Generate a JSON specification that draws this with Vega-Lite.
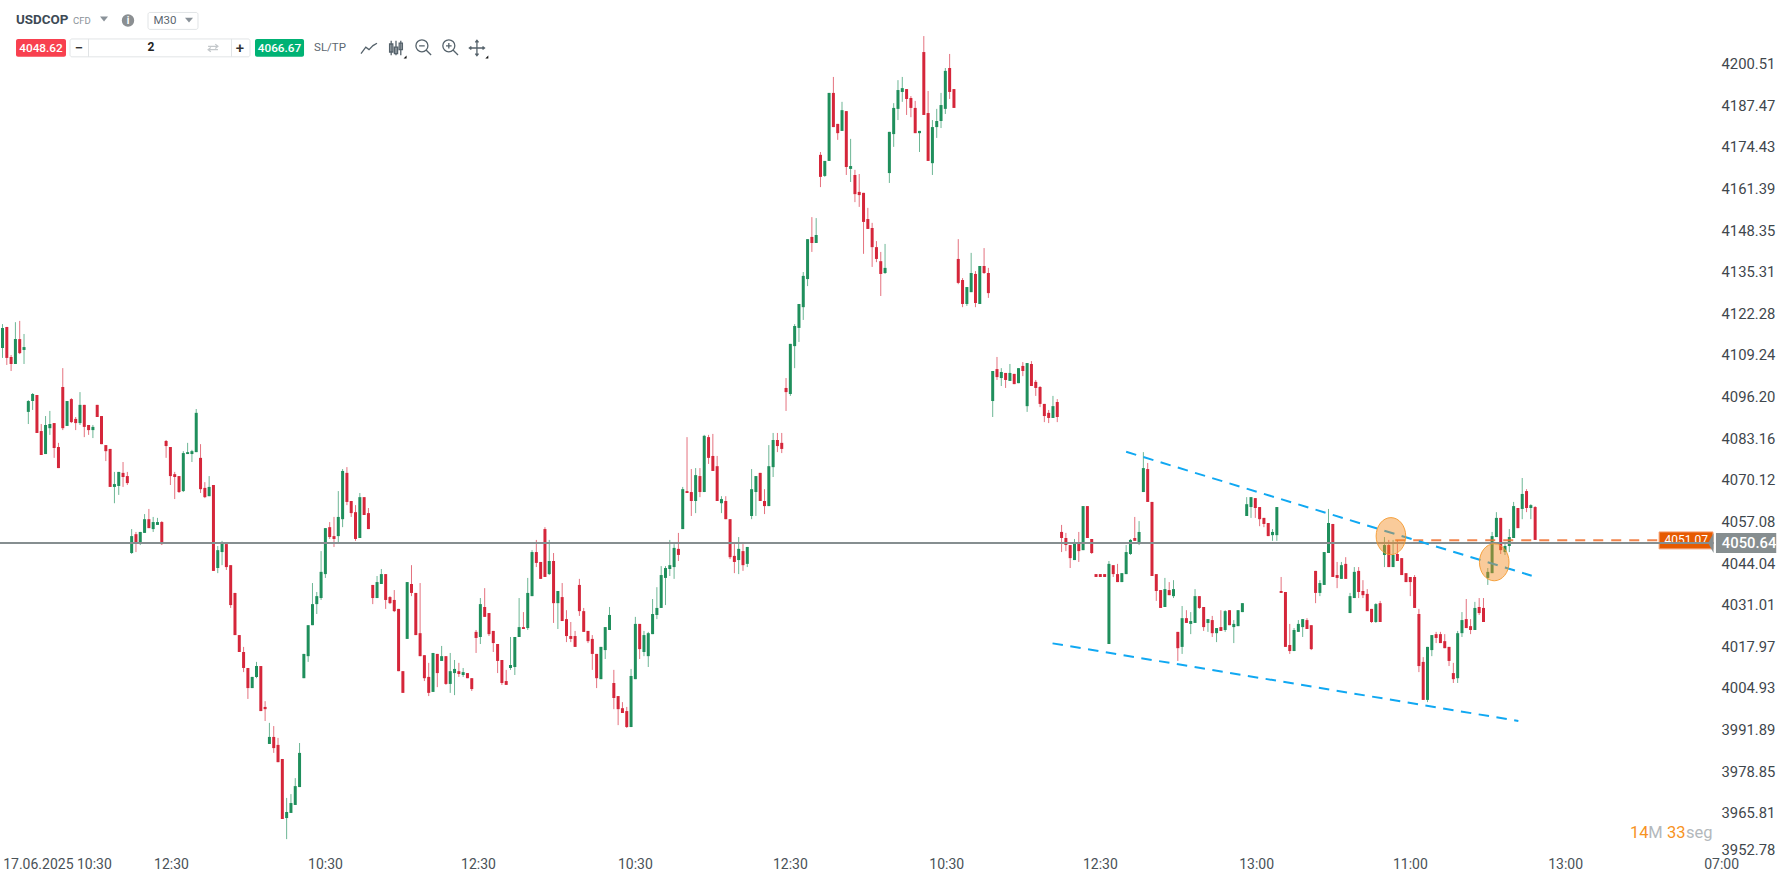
{
"$schema":"https://vega.github.io/schema/vega-lite/v6.json",
"width":1787,"height":872,
"autosize":{"type":"none"},
"padding":0,
"background":"white",
"config":{"view":{"stroke":null},"text":{"font":"Roboto"}},
"datasets":{"candles":[
{"b":0,"o":4111.7,"h":4119.2,"l":4108.6,"c":4118.0},
{"b":1,"o":4118.3,"h":4118.3,"l":4106.4,"c":4108.6},
{"b":2,"o":4108.9,"h":4109.5,"l":4104.5,"c":4106.7},
{"b":3,"o":4106.7,"h":4119.8,"l":4106.7,"c":4114.5},
{"b":4,"o":4114.5,"h":4120.2,"l":4109.8,"c":4110.1},
{"b":5,"o":4111.1,"h":4116.1,"l":4106.7,"c":4112.0},
{"b":6,"o":4091.7,"h":4095.4,"l":4087.9,"c":4095.1},
{"b":7,"o":4095.1,"h":4097.6,"l":4092.3,"c":4097.3},
{"b":8,"o":4097.0,"h":4097.0,"l":4085.1,"c":4085.1},
{"b":9,"o":4085.7,"h":4087.9,"l":4078.2,"c":4078.2},
{"b":10,"o":4078.5,"h":4090.4,"l":4078.5,"c":4087.6},
{"b":11,"o":4086.6,"h":4092.0,"l":4084.5,"c":4087.9},
{"b":12,"o":4088.2,"h":4088.2,"l":4077.3,"c":4080.4},
{"b":13,"o":4080.7,"h":4082.0,"l":4074.1,"c":4074.1},
{"b":14,"o":4099.5,"h":4105.4,"l":4086.0,"c":4086.6},
{"b":15,"o":4087.3,"h":4095.1,"l":4087.3,"c":4095.1},
{"b":16,"o":4095.7,"h":4096.0,"l":4088.2,"c":4088.5},
{"b":17,"o":4089.5,"h":4090.1,"l":4086.0,"c":4088.2},
{"b":18,"o":4088.2,"h":4097.9,"l":4087.6,"c":4093.9},
{"b":19,"o":4093.9,"h":4093.9,"l":4083.8,"c":4087.0},
{"b":20,"o":4087.6,"h":4087.6,"l":4084.5,"c":4086.0},
{"b":21,"o":4086.0,"h":4087.6,"l":4083.5,"c":4087.0},
{"b":22,"o":4093.9,"h":4093.9,"l":4090.1,"c":4090.1},
{"b":23,"o":4090.4,"h":4090.4,"l":4081.6,"c":4081.6},
{"b":24,"o":4081.3,"h":4081.3,"l":4076.3,"c":4079.4},
{"b":25,"o":4080.1,"h":4080.1,"l":4068.2,"c":4068.2},
{"b":26,"o":4068.2,"h":4072.9,"l":4063.1,"c":4069.1},
{"b":27,"o":4068.5,"h":4072.9,"l":4065.7,"c":4072.9},
{"b":28,"o":4072.6,"h":4076.0,"l":4068.2,"c":4071.3},
{"b":29,"o":4071.6,"h":4072.9,"l":4068.8,"c":4069.4},
{"b":30,"o":4047.5,"h":4055.0,"l":4047.2,"c":4052.8},
{"b":31,"o":4053.4,"h":4054.1,"l":4047.8,"c":4050.6},
{"b":32,"o":4050.6,"h":4054.1,"l":4050.0,"c":4054.1},
{"b":33,"o":4053.8,"h":4059.7,"l":4053.8,"c":4058.1},
{"b":34,"o":4058.1,"h":4061.3,"l":4055.3,"c":4055.3},
{"b":35,"o":4055.0,"h":4058.8,"l":4054.1,"c":4057.2},
{"b":36,"o":4056.3,"h":4058.5,"l":4056.3,"c":4057.2},
{"b":37,"o":4057.2,"h":4057.5,"l":4050.0,"c":4050.3},
{"b":38,"o":4082.6,"h":4082.9,"l":4077.3,"c":4081.0},
{"b":39,"o":4080.7,"h":4080.7,"l":4068.8,"c":4071.6},
{"b":40,"o":4072.2,"h":4072.9,"l":4064.4,"c":4071.3},
{"b":41,"o":4071.6,"h":4071.6,"l":4066.3,"c":4066.6},
{"b":42,"o":4066.9,"h":4079.4,"l":4066.6,"c":4078.8},
{"b":43,"o":4078.5,"h":4082.0,"l":4078.5,"c":4079.1},
{"b":44,"o":4078.5,"h":4079.8,"l":4076.0,"c":4079.4},
{"b":45,"o":4079.1,"h":4092.6,"l":4079.1,"c":4091.4},
{"b":46,"o":4077.3,"h":4081.6,"l":4066.3,"c":4067.5},
{"b":47,"o":4067.9,"h":4069.7,"l":4064.7,"c":4065.0},
{"b":48,"o":4065.3,"h":4071.6,"l":4065.3,"c":4068.2},
{"b":49,"o":4068.8,"h":4068.8,"l":4041.9,"c":4041.9},
{"b":50,"o":4042.8,"h":4049.7,"l":4041.2,"c":4048.4},
{"b":51,"o":4047.8,"h":4051.3,"l":4043.7,"c":4050.9},
{"b":52,"o":4050.3,"h":4050.3,"l":4042.2,"c":4043.1},
{"b":53,"o":4043.7,"h":4043.7,"l":4030.3,"c":4031.2},
{"b":54,"o":4035.0,"h":4035.0,"l":4021.8,"c":4021.8},
{"b":55,"o":4021.8,"h":4021.8,"l":4016.5,"c":4016.5},
{"b":56,"o":4016.5,"h":4018.1,"l":4010.2,"c":4011.5},
{"b":57,"o":4011.5,"h":4011.5,"l":4001.8,"c":4005.2},
{"b":58,"o":4005.2,"h":4008.7,"l":4005.2,"c":4008.7},
{"b":59,"o":4008.7,"h":4013.4,"l":4008.3,"c":4012.1},
{"b":60,"o":4012.1,"h":4012.1,"l":3998.0,"c":3998.0},
{"b":61,"o":3999.3,"h":4001.1,"l":3994.9,"c":3998.6},
{"b":62,"o":3987.7,"h":3994.3,"l":3987.7,"c":3989.9},
{"b":63,"o":3989.9,"h":3993.3,"l":3984.9,"c":3986.4},
{"b":64,"o":3987.4,"h":3989.6,"l":3982.0,"c":3982.0},
{"b":65,"o":3983.0,"h":3983.0,"l":3964.2,"c":3964.2},
{"b":66,"o":3964.5,"h":3970.8,"l":3957.9,"c":3966.4},
{"b":67,"o":3966.1,"h":3972.0,"l":3966.1,"c":3969.2},
{"b":68,"o":3968.6,"h":3977.0,"l":3968.6,"c":3974.5},
{"b":69,"o":3974.2,"h":3988.0,"l":3974.2,"c":3984.9},
{"b":70,"o":4008.3,"h":4015.9,"l":4008.3,"c":4015.9},
{"b":71,"o":4015.2,"h":4024.9,"l":4013.4,"c":4024.9},
{"b":72,"o":4024.9,"h":4038.1,"l":4024.9,"c":4031.5},
{"b":73,"o":4031.5,"h":4035.3,"l":4028.4,"c":4034.0},
{"b":74,"o":4033.4,"h":4048.1,"l":4032.8,"c":4041.6},
{"b":75,"o":4040.9,"h":4055.3,"l":4039.7,"c":4055.3},
{"b":76,"o":4055.6,"h":4057.2,"l":4051.9,"c":4052.5},
{"b":77,"o":4052.8,"h":4058.8,"l":4049.4,"c":4051.9},
{"b":78,"o":4052.8,"h":4066.9,"l":4050.9,"c":4058.8},
{"b":79,"o":4058.1,"h":4073.8,"l":4055.6,"c":4073.2},
{"b":80,"o":4072.6,"h":4074.4,"l":4062.5,"c":4063.5},
{"b":81,"o":4063.8,"h":4063.8,"l":4058.8,"c":4060.0},
{"b":82,"o":4060.3,"h":4062.5,"l":4051.3,"c":4051.9},
{"b":83,"o":4052.2,"h":4066.3,"l":4052.2,"c":4065.0},
{"b":84,"o":4065.0,"h":4065.0,"l":4059.4,"c":4059.4},
{"b":85,"o":4060.0,"h":4061.6,"l":4055.0,"c":4055.0},
{"b":86,"o":4037.5,"h":4037.5,"l":4031.5,"c":4033.4},
{"b":87,"o":4033.4,"h":4040.3,"l":4033.4,"c":4038.4},
{"b":88,"o":4037.8,"h":4042.5,"l":4037.8,"c":4040.9},
{"b":89,"o":4040.9,"h":4040.9,"l":4030.0,"c":4032.8},
{"b":90,"o":4033.7,"h":4034.0,"l":4031.5,"c":4031.8},
{"b":91,"o":4032.8,"h":4035.9,"l":4029.0,"c":4029.3},
{"b":92,"o":4030.0,"h":4030.0,"l":4010.5,"c":4010.5},
{"b":93,"o":4010.5,"h":4010.5,"l":4003.7,"c":4003.7},
{"b":94,"o":4020.6,"h":4038.4,"l":4020.6,"c":4038.4},
{"b":95,"o":4037.8,"h":4043.7,"l":4034.0,"c":4035.0},
{"b":96,"o":4035.0,"h":4035.0,"l":4021.8,"c":4021.8},
{"b":97,"o":4022.4,"h":4038.1,"l":4015.2,"c":4015.2},
{"b":98,"o":4015.5,"h":4015.5,"l":4007.4,"c":4008.3},
{"b":99,"o":4008.7,"h":4013.1,"l":4002.7,"c":4003.7},
{"b":100,"o":4004.0,"h":4016.2,"l":4004.0,"c":4016.2},
{"b":101,"o":4015.9,"h":4015.9,"l":4005.5,"c":4009.9},
{"b":102,"o":4013.7,"h":4018.4,"l":4013.7,"c":4015.2},
{"b":103,"o":4015.2,"h":4015.2,"l":4006.2,"c":4006.5},
{"b":104,"o":4006.5,"h":4016.2,"l":4003.7,"c":4010.5},
{"b":105,"o":4009.9,"h":4014.0,"l":4003.0,"c":4011.2},
{"b":106,"o":4010.5,"h":4013.1,"l":4008.7,"c":4009.6},
{"b":107,"o":4009.3,"h":4011.5,"l":4008.7,"c":4010.2},
{"b":108,"o":4009.9,"h":4009.9,"l":4008.3,"c":4008.3},
{"b":109,"o":4008.3,"h":4008.3,"l":4004.3,"c":4004.9},
{"b":110,"o":4022.8,"h":4023.4,"l":4016.2,"c":4020.9},
{"b":111,"o":4021.2,"h":4033.4,"l":4019.0,"c":4031.5},
{"b":112,"o":4030.6,"h":4036.5,"l":4027.5,"c":4027.5},
{"b":113,"o":4028.7,"h":4028.7,"l":4021.5,"c":4022.1},
{"b":114,"o":4023.1,"h":4023.1,"l":4016.5,"c":4019.3},
{"b":115,"o":4019.0,"h":4019.0,"l":4009.9,"c":4013.7},
{"b":116,"o":4014.0,"h":4014.0,"l":4006.2,"c":4006.8},
{"b":117,"o":4007.4,"h":4010.9,"l":4006.2,"c":4006.2},
{"b":118,"o":4011.5,"h":4021.2,"l":4010.9,"c":4012.4},
{"b":119,"o":4011.8,"h":4021.2,"l":4009.3,"c":4021.2},
{"b":120,"o":4021.2,"h":4033.4,"l":4021.2,"c":4024.3},
{"b":121,"o":4024.3,"h":4029.0,"l":4023.7,"c":4023.7},
{"b":122,"o":4024.0,"h":4039.7,"l":4023.4,"c":4035.0},
{"b":123,"o":4034.0,"h":4048.4,"l":4034.0,"c":4047.8},
{"b":124,"o":4047.8,"h":4051.6,"l":4043.1,"c":4044.4},
{"b":125,"o":4044.7,"h":4044.7,"l":4039.4,"c":4039.4},
{"b":126,"o":4055.0,"h":4055.6,"l":4040.0,"c":4040.0},
{"b":127,"o":4040.9,"h":4051.6,"l":4040.6,"c":4045.0},
{"b":128,"o":4045.0,"h":4047.5,"l":4025.6,"c":4031.8},
{"b":129,"o":4031.8,"h":4035.6,"l":4023.7,"c":4035.6},
{"b":130,"o":4033.7,"h":4038.1,"l":4026.2,"c":4026.2},
{"b":131,"o":4026.8,"h":4029.6,"l":4019.6,"c":4021.5},
{"b":132,"o":4021.5,"h":4025.9,"l":4019.6,"c":4020.6},
{"b":133,"o":4021.5,"h":4023.1,"l":4018.1,"c":4018.1},
{"b":134,"o":4037.5,"h":4039.4,"l":4027.8,"c":4029.3},
{"b":135,"o":4029.3,"h":4030.3,"l":4022.8,"c":4022.8},
{"b":136,"o":4023.1,"h":4023.1,"l":4019.3,"c":4019.9},
{"b":137,"o":4020.6,"h":4021.8,"l":4010.9,"c":4015.9},
{"b":138,"o":4015.9,"h":4015.9,"l":4005.2,"c":4008.3},
{"b":139,"o":4008.0,"h":4018.1,"l":4008.0,"c":4018.1},
{"b":140,"o":4017.1,"h":4024.3,"l":4014.3,"c":4024.3},
{"b":141,"o":4023.4,"h":4030.6,"l":4023.4,"c":4028.1},
{"b":142,"o":4006.8,"h":4010.9,"l":3998.6,"c":4002.1},
{"b":143,"o":4002.7,"h":4002.7,"l":3993.6,"c":3998.6},
{"b":144,"o":3998.9,"h":4000.8,"l":3997.4,"c":3997.4},
{"b":145,"o":3998.0,"h":3999.3,"l":3992.7,"c":3993.0},
{"b":146,"o":3993.0,"h":4011.2,"l":3993.0,"c":4009.0},
{"b":147,"o":4008.0,"h":4027.5,"l":4008.0,"c":4025.3},
{"b":148,"o":4025.3,"h":4025.3,"l":4014.3,"c":4017.4},
{"b":149,"o":4016.5,"h":4023.1,"l":4015.2,"c":4021.8},
{"b":150,"o":4015.2,"h":4022.8,"l":4011.8,"c":4022.4},
{"b":151,"o":4022.1,"h":4033.1,"l":4022.1,"c":4028.4},
{"b":152,"o":4028.1,"h":4036.8,"l":4026.8,"c":4030.3},
{"b":153,"o":4030.3,"h":4043.4,"l":4030.3,"c":4040.6},
{"b":154,"o":4039.7,"h":4043.4,"l":4031.2,"c":4042.8},
{"b":155,"o":4042.5,"h":4051.6,"l":4040.3,"c":4043.7},
{"b":156,"o":4043.1,"h":4050.3,"l":4039.4,"c":4049.1},
{"b":157,"o":4048.8,"h":4053.8,"l":4045.0,"c":4046.9},
{"b":158,"o":4055.0,"h":4068.2,"l":4055.0,"c":4067.5},
{"b":159,"o":4066.9,"h":4083.8,"l":4066.3,"c":4066.3},
{"b":160,"o":4066.6,"h":4073.8,"l":4059.1,"c":4063.8},
{"b":161,"o":4063.8,"h":4074.1,"l":4060.0,"c":4071.9},
{"b":162,"o":4071.6,"h":4074.1,"l":4065.0,"c":4066.6},
{"b":163,"o":4066.6,"h":4084.5,"l":4066.6,"c":4084.2},
{"b":164,"o":4083.8,"h":4084.5,"l":4075.4,"c":4077.3},
{"b":165,"o":4077.9,"h":4084.8,"l":4073.2,"c":4073.2},
{"b":166,"o":4074.7,"h":4077.9,"l":4063.8,"c":4063.8},
{"b":167,"o":4063.1,"h":4065.3,"l":4060.0,"c":4064.4},
{"b":168,"o":4063.8,"h":4065.3,"l":4058.1,"c":4058.1},
{"b":169,"o":4058.1,"h":4058.1,"l":4045.6,"c":4046.2},
{"b":170,"o":4046.6,"h":4050.3,"l":4041.2,"c":4044.7},
{"b":171,"o":4045.3,"h":4052.5,"l":4040.9,"c":4048.8},
{"b":172,"o":4048.1,"h":4050.3,"l":4041.9,"c":4043.7},
{"b":173,"o":4044.1,"h":4049.4,"l":4043.1,"c":4049.4},
{"b":174,"o":4059.1,"h":4073.8,"l":4058.1,"c":4067.5},
{"b":175,"o":4066.6,"h":4071.6,"l":4059.1,"c":4071.6},
{"b":176,"o":4072.6,"h":4072.6,"l":4063.8,"c":4063.8},
{"b":177,"o":4063.8,"h":4067.5,"l":4059.7,"c":4062.2},
{"b":178,"o":4062.2,"h":4081.3,"l":4062.2,"c":4074.7},
{"b":179,"o":4074.4,"h":4085.1,"l":4071.3,"c":4082.9},
{"b":180,"o":4082.9,"h":4085.1,"l":4079.1,"c":4081.0},
{"b":181,"o":4082.0,"h":4085.1,"l":4078.8,"c":4080.1},
{"b":182,"o":4099.2,"h":4102.3,"l":4092.0,"c":4097.9},
{"b":183,"o":4097.3,"h":4113.0,"l":4096.7,"c":4113.0},
{"b":184,"o":4112.3,"h":4119.2,"l":4105.4,"c":4118.6},
{"b":185,"o":4118.0,"h":4125.5,"l":4113.6,"c":4125.5},
{"b":186,"o":4124.5,"h":4135.5,"l":4120.5,"c":4134.3},
{"b":187,"o":4133.3,"h":4145.8,"l":4131.1,"c":4145.8},
{"b":188,"o":4146.5,"h":4152.7,"l":4141.8,"c":4144.6},
{"b":189,"o":4144.6,"h":4152.4,"l":4144.6,"c":4147.1},
{"b":190,"o":4172.2,"h":4173.1,"l":4162.1,"c":4165.3},
{"b":191,"o":4165.6,"h":4170.3,"l":4165.3,"c":4170.3},
{"b":192,"o":4170.3,"h":4191.6,"l":4170.3,"c":4191.6},
{"b":193,"o":4191.6,"h":4196.6,"l":4180.9,"c":4180.9},
{"b":194,"o":4181.9,"h":4181.9,"l":4176.9,"c":4179.0},
{"b":195,"o":4179.7,"h":4188.8,"l":4179.7,"c":4186.2},
{"b":196,"o":4185.9,"h":4185.9,"l":4165.9,"c":4168.4},
{"b":197,"o":4167.8,"h":4177.2,"l":4163.7,"c":4168.7},
{"b":198,"o":4165.9,"h":4167.5,"l":4157.4,"c":4159.9},
{"b":199,"o":4160.6,"h":4166.2,"l":4155.9,"c":4159.6},
{"b":200,"o":4160.3,"h":4160.3,"l":4141.2,"c":4151.2},
{"b":201,"o":4152.1,"h":4155.6,"l":4149.0,"c":4149.0},
{"b":202,"o":4149.3,"h":4150.9,"l":4137.1,"c":4143.3},
{"b":203,"o":4143.3,"h":4145.2,"l":4138.6,"c":4139.6},
{"b":204,"o":4138.9,"h":4141.8,"l":4128.0,"c":4134.9},
{"b":205,"o":4135.2,"h":4144.3,"l":4134.9,"c":4136.8},
{"b":206,"o":4166.5,"h":4179.4,"l":4163.4,"c":4179.4},
{"b":207,"o":4178.7,"h":4188.4,"l":4174.7,"c":4186.9},
{"b":208,"o":4186.6,"h":4195.6,"l":4183.1,"c":4192.5},
{"b":209,"o":4191.9,"h":4196.6,"l":4188.8,"c":4193.1},
{"b":210,"o":4192.8,"h":4192.8,"l":4184.7,"c":4189.7},
{"b":211,"o":4190.0,"h":4190.6,"l":4184.0,"c":4186.9},
{"b":212,"o":4186.9,"h":4189.1,"l":4179.0,"c":4179.0},
{"b":213,"o":4179.0,"h":4179.7,"l":4173.1,"c":4179.7},
{"b":214,"o":4204.4,"h":4209.4,"l":4184.7,"c":4184.7},
{"b":215,"o":4185.3,"h":4192.2,"l":4170.3,"c":4170.3},
{"b":216,"o":4169.6,"h":4183.1,"l":4165.9,"c":4180.9},
{"b":217,"o":4180.9,"h":4186.6,"l":4177.5,"c":4182.8},
{"b":218,"o":4182.8,"h":4191.6,"l":4180.6,"c":4187.8},
{"b":219,"o":4186.6,"h":4199.4,"l":4185.0,"c":4198.5},
{"b":220,"o":4199.4,"h":4203.8,"l":4189.7,"c":4191.9},
{"b":221,"o":4192.8,"h":4192.8,"l":4186.9,"c":4186.9},
{"b":222,"o":4139.6,"h":4145.8,"l":4131.7,"c":4132.1},
{"b":223,"o":4133.0,"h":4133.6,"l":4124.5,"c":4125.5},
{"b":224,"o":4125.5,"h":4130.8,"l":4124.9,"c":4130.8},
{"b":225,"o":4129.2,"h":4141.5,"l":4129.2,"c":4135.2},
{"b":226,"o":4134.9,"h":4135.8,"l":4124.5,"c":4125.8},
{"b":227,"o":4125.5,"h":4137.4,"l":4125.5,"c":4137.4},
{"b":228,"o":4137.4,"h":4143.0,"l":4134.9,"c":4135.2},
{"b":229,"o":4135.2,"h":4136.8,"l":4127.4,"c":4128.9},
{"b":230,"o":4095.1,"h":4104.5,"l":4090.1,"c":4104.5},
{"b":231,"o":4105.1,"h":4108.9,"l":4101.7,"c":4102.6},
{"b":232,"o":4102.3,"h":4105.4,"l":4099.8,"c":4104.2},
{"b":233,"o":4103.9,"h":4103.9,"l":4099.2,"c":4101.7},
{"b":234,"o":4101.4,"h":4106.7,"l":4101.4,"c":4103.9},
{"b":235,"o":4103.6,"h":4103.6,"l":4100.4,"c":4100.4},
{"b":236,"o":4100.7,"h":4105.4,"l":4100.7,"c":4105.4},
{"b":237,"o":4106.1,"h":4107.3,"l":4102.9,"c":4104.5},
{"b":238,"o":4093.5,"h":4107.0,"l":4091.7,"c":4107.0},
{"b":239,"o":4106.7,"h":4107.6,"l":4099.8,"c":4099.8},
{"b":240,"o":4101.1,"h":4101.7,"l":4096.7,"c":4099.2},
{"b":241,"o":4099.5,"h":4099.8,"l":4093.2,"c":4094.2},
{"b":242,"o":4094.2,"h":4094.2,"l":4088.5,"c":4090.4},
{"b":243,"o":4091.4,"h":4092.3,"l":4088.2,"c":4089.8},
{"b":244,"o":4089.8,"h":4096.7,"l":4089.8,"c":4093.5},
{"b":245,"o":4094.8,"h":4095.7,"l":4088.5,"c":4090.1},
{"b":246,"o":4054.1,"h":4056.3,"l":4047.8,"c":4052.2},
{"b":247,"o":4052.2,"h":4053.8,"l":4048.1,"c":4050.0},
{"b":248,"o":4050.0,"h":4050.0,"l":4042.8,"c":4045.9},
{"b":249,"o":4045.3,"h":4051.9,"l":4045.3,"c":4050.9},
{"b":250,"o":4050.9,"h":4054.1,"l":4044.7,"c":4048.1},
{"b":251,"o":4048.4,"h":4062.2,"l":4048.4,"c":4062.2},
{"b":252,"o":4062.2,"h":4062.2,"l":4052.2,"c":4052.2},
{"b":253,"o":4051.9,"h":4051.9,"l":4047.2,"c":4047.5},
{"b":254,"o":4040.9,"h":4040.9,"l":4040.0,"c":4040.0},
{"b":255,"o":4040.9,"h":4040.9,"l":4040.0,"c":4040.0},
{"b":256,"o":4040.9,"h":4040.9,"l":4040.0,"c":4040.0},
{"b":257,"o":4019.0,"h":4045.0,"l":4019.0,"c":4044.1},
{"b":258,"o":4043.7,"h":4043.7,"l":4040.0,"c":4040.9},
{"b":259,"o":4040.9,"h":4044.1,"l":4038.4,"c":4038.4},
{"b":260,"o":4038.4,"h":4041.2,"l":4038.4,"c":4041.2},
{"b":261,"o":4040.9,"h":4050.0,"l":4040.9,"c":4047.8},
{"b":262,"o":4047.2,"h":4051.9,"l":4046.9,"c":4051.6},
{"b":263,"o":4052.2,"h":4058.8,"l":4051.3,"c":4051.3},
{"b":264,"o":4050.9,"h":4057.5,"l":4050.0,"c":4054.1},
{"b":265,"o":4066.6,"h":4079.1,"l":4066.6,"c":4074.1},
{"b":266,"o":4073.8,"h":4075.7,"l":4063.5,"c":4063.5},
{"b":267,"o":4063.5,"h":4063.5,"l":4040.3,"c":4040.3},
{"b":268,"o":4040.9,"h":4040.9,"l":4032.5,"c":4035.6},
{"b":269,"o":4035.9,"h":4035.9,"l":4030.3,"c":4030.3},
{"b":270,"o":4030.6,"h":4039.7,"l":4030.6,"c":4036.2},
{"b":271,"o":4035.9,"h":4038.4,"l":4034.3,"c":4034.3},
{"b":272,"o":4034.0,"h":4039.0,"l":4033.4,"c":4036.2},
{"b":273,"o":4022.8,"h":4022.8,"l":4013.7,"c":4017.7},
{"b":274,"o":4018.1,"h":4030.9,"l":4015.9,"c":4027.1},
{"b":275,"o":4027.1,"h":4029.6,"l":4025.6,"c":4025.6},
{"b":276,"o":4025.3,"h":4029.0,"l":4022.1,"c":4026.2},
{"b":277,"o":4025.6,"h":4036.2,"l":4025.6,"c":4034.0},
{"b":278,"o":4034.0,"h":4034.0,"l":4030.0,"c":4030.3},
{"b":279,"o":4030.6,"h":4030.6,"l":4023.1,"c":4024.3},
{"b":280,"o":4025.6,"h":4026.8,"l":4022.8,"c":4026.8},
{"b":281,"o":4026.5,"h":4027.8,"l":4021.2,"c":4022.4},
{"b":282,"o":4022.4,"h":4024.0,"l":4019.6,"c":4024.0},
{"b":283,"o":4024.3,"h":4029.6,"l":4023.1,"c":4023.1},
{"b":284,"o":4023.4,"h":4029.6,"l":4022.8,"c":4029.3},
{"b":285,"o":4029.6,"h":4029.6,"l":4024.9,"c":4024.9},
{"b":286,"o":4024.3,"h":4026.5,"l":4019.3,"c":4025.3},
{"b":287,"o":4024.6,"h":4029.6,"l":4024.6,"c":4029.6},
{"b":288,"o":4029.0,"h":4031.8,"l":4029.0,"c":4031.8},
{"b":289,"o":4059.1,"h":4065.0,"l":4059.1,"c":4062.8},
{"b":290,"o":4061.9,"h":4065.0,"l":4058.5,"c":4065.0},
{"b":291,"o":4064.7,"h":4064.7,"l":4058.5,"c":4061.6},
{"b":292,"o":4061.9,"h":4061.9,"l":4055.9,"c":4058.1},
{"b":293,"o":4058.5,"h":4058.5,"l":4055.6,"c":4056.6},
{"b":294,"o":4056.9,"h":4056.9,"l":4052.8,"c":4052.8},
{"b":295,"o":4053.1,"h":4055.0,"l":4051.3,"c":4054.1},
{"b":296,"o":4053.1,"h":4061.9,"l":4051.3,"c":4061.9},
{"b":297,"o":4035.6,"h":4040.0,"l":4035.0,"c":4035.0},
{"b":298,"o":4035.3,"h":4035.3,"l":4018.1,"c":4018.1},
{"b":299,"o":4018.7,"h":4025.3,"l":4015.9,"c":4016.8},
{"b":300,"o":4016.8,"h":4024.0,"l":4016.8,"c":4023.4},
{"b":301,"o":4022.8,"h":4026.5,"l":4022.8,"c":4025.3},
{"b":302,"o":4024.3,"h":4026.8,"l":4021.2,"c":4026.8},
{"b":303,"o":4026.5,"h":4027.1,"l":4023.7,"c":4023.7},
{"b":304,"o":4024.9,"h":4024.9,"l":4017.1,"c":4017.4},
{"b":305,"o":4041.9,"h":4041.9,"l":4031.8,"c":4035.0},
{"b":306,"o":4035.0,"h":4039.0,"l":4034.0,"c":4038.1},
{"b":307,"o":4037.5,"h":4047.8,"l":4037.5,"c":4047.8},
{"b":308,"o":4047.5,"h":4061.3,"l":4047.5,"c":4056.9},
{"b":309,"o":4056.6,"h":4056.6,"l":4040.0,"c":4040.0},
{"b":310,"o":4040.6,"h":4044.7,"l":4036.5,"c":4039.7},
{"b":311,"o":4039.4,"h":4044.7,"l":4039.4,"c":4043.7},
{"b":312,"o":4044.1,"h":4046.2,"l":4039.4,"c":4039.4},
{"b":313,"o":4028.7,"h":4035.0,"l":4028.7,"c":4034.0},
{"b":314,"o":4033.4,"h":4043.1,"l":4033.4,"c":4041.6},
{"b":315,"o":4041.9,"h":4043.1,"l":4033.4,"c":4035.3},
{"b":316,"o":4035.6,"h":4039.0,"l":4033.4,"c":4034.3},
{"b":317,"o":4034.7,"h":4036.2,"l":4029.3,"c":4029.3},
{"b":318,"o":4030.0,"h":4030.0,"l":4025.6,"c":4025.9},
{"b":319,"o":4025.9,"h":4031.8,"l":4025.6,"c":4031.5},
{"b":320,"o":4031.8,"h":4032.5,"l":4025.9,"c":4025.9},
{"b":321,"o":4046.9,"h":4052.5,"l":4043.1,"c":4050.0},
{"b":322,"o":4050.0,"h":4051.6,"l":4043.1,"c":4043.1},
{"b":323,"o":4043.1,"h":4051.6,"l":4043.1,"c":4046.9},
{"b":324,"o":4047.2,"h":4051.6,"l":4045.0,"c":4045.0},
{"b":325,"o":4045.9,"h":4045.9,"l":4040.6,"c":4040.6},
{"b":326,"o":4041.2,"h":4041.2,"l":4038.4,"c":4038.4},
{"b":327,"o":4040.0,"h":4040.0,"l":4034.0,"c":4038.4},
{"b":328,"o":4040.0,"h":4040.6,"l":4030.3,"c":4030.3},
{"b":329,"o":4028.4,"h":4030.0,"l":4010.2,"c":4012.1},
{"b":330,"o":4013.4,"h":4014.9,"l":4001.5,"c":4001.5},
{"b":331,"o":4001.5,"h":4018.1,"l":4000.8,"c":4018.1},
{"b":332,"o":4017.1,"h":4021.8,"l":4015.2,"c":4021.8},
{"b":333,"o":4022.1,"h":4022.8,"l":4019.3,"c":4020.9},
{"b":334,"o":4022.1,"h":4022.8,"l":4019.3,"c":4019.3},
{"b":335,"o":4019.9,"h":4022.1,"l":4017.7,"c":4017.7},
{"b":336,"o":4018.1,"h":4018.1,"l":4012.1,"c":4013.7},
{"b":337,"o":4009.9,"h":4013.1,"l":4006.8,"c":4008.0},
{"b":338,"o":4008.3,"h":4023.1,"l":4006.8,"c":4022.4},
{"b":339,"o":4022.4,"h":4029.0,"l":4021.2,"c":4026.5},
{"b":340,"o":4026.8,"h":4033.1,"l":4024.0,"c":4024.0},
{"b":341,"o":4024.6,"h":4026.8,"l":4022.1,"c":4023.4},
{"b":342,"o":4023.4,"h":4032.2,"l":4023.4,"c":4030.3},
{"b":343,"o":4030.6,"h":4033.4,"l":4028.1,"c":4028.7},
{"b":344,"o":4030.3,"h":4033.4,"l":4025.9,"c":4025.9},
{"b":345,"o":4039.7,"h":4042.8,"l":4037.5,"c":4041.6},
{"b":346,"o":4041.2,"h":4054.1,"l":4041.2,"c":4052.8},
{"b":347,"o":4052.5,"h":4060.3,"l":4052.5,"c":4058.5},
{"b":348,"o":4058.5,"h":4058.5,"l":4047.2,"c":4048.4},
{"b":349,"o":4047.8,"h":4050.6,"l":4046.9,"c":4049.7},
{"b":350,"o":4049.7,"h":4055.0,"l":4047.8,"c":4052.5},
{"b":351,"o":4052.2,"h":4063.5,"l":4052.2,"c":4062.2},
{"b":352,"o":4061.6,"h":4061.6,"l":4055.3,"c":4055.3},
{"b":353,"o":4061.3,"h":4071.0,"l":4058.1,"c":4066.0},
{"b":354,"o":4066.9,"h":4067.5,"l":4060.3,"c":4061.6},
{"b":355,"o":4061.6,"h":4062.8,"l":4058.1,"c":4062.5},
{"b":356,"o":4061.9,"h":4062.2,"l":4051.6,"c":4051.6}
]},
"layer":[
{"data":{"name":"candles"},
 "mark":{"type":"rule","strokeWidth":1,"opacity":0.65},
 "encoding":{
  "x":{"field":"b","type":"quantitative","title":null,
   "scale":{"domain":[-0.58,414.5],"nice":false,"zero":false,"padding":0},
   "axis":{"title":null,"grid":false,"domain":false,"ticks":false,"labelFont":"Roboto","labelFontSize":14,"labelColor":"#4a5258","labelPadding":-15,"labelOverlap":false,"labelBound":false,"labelFlush":false,
    "values":[12.66,39.14,74.9,110.45,146.9,182.9,219.2,254.9,291.2,326.9,362.96,399.2],
    "labelExpr":"{'12.66':'17.06.2025 10:30','39.14':'12:30','74.9':'10:30','110.45':'12:30','146.9':'10:30','182.9':'12:30','219.2':'10:30','254.9':'12:30','291.2':'13:00','326.9':'11:00','362.96':'13:00','399.2':'07:00'}[datum.value]"}},
  "y":{"field":"l","type":"quantitative","title":null,
   "scale":{"domain":[3947.6,4220.7],"nice":false,"zero":false},
   "axis":{"title":null,"orient":"right","grid":false,"domain":false,"ticks":false,"labelFont":"Roboto","labelFontSize":14.8,"labelColor":"#3f474d","labelPadding":-66,"labelOverlap":false,"labelBound":false,"labelFlush":false,"format":".2f",
    "labelOffset":{"condition":{"test":"datum.value<3953","value":-5},"value":0},
    "values":[4200.51,4187.47,4174.43,4161.39,4148.35,4135.31,4122.28,4109.24,4096.20,4083.16,4070.12,4057.08,4044.04,4031.01,4017.97,4004.93,3991.89,3978.85,3965.81,3952.78]}},
  "y2":{"field":"h"},
  "color":{"condition":{"test":"datum.c>=datum.o","value":"#1f8f5c"},"value":"#d5263a"}}},
{"data":{"name":"candles"},
 "mark":{"type":"bar","size":3},
 "encoding":{
  "x":{"field":"b","type":"quantitative"},
  "y":{"field":"o","type":"quantitative"},
  "y2":{"field":"c"},
  "color":{"condition":{"test":"datum.c>=datum.o","value":"#1f8f5c"},"value":"#d5263a"}}},
{"data":{"values":[{"b":323.5,"b2":384.8,"p":4051.5}]},
 "mark":{"type":"rule","strokeWidth":2,"strokeDash":[10,8],"color":"#f0702e","opacity":0.85},
 "encoding":{"x":{"field":"b","type":"quantitative"},"x2":{"field":"b2"},"y":{"field":"p","type":"quantitative"}}},
{"data":{"values":[{"b":384.8,"b2":397.3,"p":4054.1,"p2":4048.8}]},
 "mark":{"type":"rect","fill":"#e65a00","stroke":"#f59b6a","strokeWidth":1},
 "encoding":{"x":{"field":"b","type":"quantitative"},"x2":{"field":"b2"},"y":{"field":"p","type":"quantitative"},"y2":{"field":"p2"}}},
{"data":{"values":[{"b":391.1,"p":4051.6,"t":"4051.07"}]},
 "mark":{"type":"text","fontSize":12,"color":"white","align":"center","baseline":"middle"},
 "encoding":{"x":{"field":"b","type":"quantitative"},"y":{"field":"p","type":"quantitative"},"text":{"field":"t"}}},
{"data":{"values":[{"b":-0.58,"b2":397.5,"p":4050.64}]},
 "mark":{"type":"rule","strokeWidth":2,"color":"#868e90"},
 "encoding":{"x":{"field":"b","type":"quantitative"},"x2":{"field":"b2"},"y":{"field":"p","type":"quantitative"}}},
{"data":{"values":[{"b":398.0,"b2":412.0,"p":4053.8,"p2":4047.5}]},
 "mark":{"type":"rect","fill":"#868e90"},
 "encoding":{"x":{"field":"b","type":"quantitative"},"x2":{"field":"b2"},"y":{"field":"p","type":"quantitative"},"y2":{"field":"p2"}}},
{"data":{"values":[{"b":397.1,"p":4050.64}]},
 "mark":{"type":"point","shape":"M -0.4,0 L 0.15,-1 L 0.15,1 Z","filled":true,"size":400,"color":"#868e90","opacity":1},
 "encoding":{"x":{"field":"b","type":"quantitative"},"y":{"field":"p","type":"quantitative"}}},
{"data":{"values":[{"b":405.7,"p":4050.4,"t":"4050.64"}]},
 "mark":{"type":"text","fontSize":14.8,"fontWeight":500,"color":"white","align":"center","baseline":"middle"},
 "encoding":{"x":{"field":"b","type":"quantitative"},"y":{"field":"p","type":"quantitative"},"text":{"field":"t"}}},
{"data":{"values":[
  {"line":"upper","b":261.0,"p":4079.2},{"line":"upper","b":355.2,"p":4040.4},
  {"line":"lower","b":243.9,"p":4019.2},{"line":"lower","b":352.1,"p":3994.9}]},
 "mark":{"type":"line","strokeWidth":2,"strokeDash":[10.5,7.5],"color":"#10a8f2"},
 "encoding":{"x":{"field":"b","type":"quantitative"},"y":{"field":"p","type":"quantitative"},"detail":{"field":"line"}}},
{"data":{"values":[{"b":322.5,"p":4052.8},{"b":346.5,"p":4044.6}]},
 "mark":{"type":"point","shape":"M -0.8,0 A 0.8 1 0 1 1 0.8,0 A 0.8 1 0 1 1 -0.8,0 Z","filled":true,"size":1369,"color":"#f58b1f","opacity":0.45},
 "encoding":{"x":{"field":"b","type":"quantitative"},"y":{"field":"p","type":"quantitative"}}},
{"data":{"values":[{"b":322.5,"p":4052.8},{"b":346.5,"p":4044.6}]},
 "mark":{"type":"point","shape":"M -0.8,0 A 0.8 1 0 1 1 0.8,0 A 0.8 1 0 1 1 -0.8,0 Z","filled":false,"size":1369,"color":"#f59a2e","strokeWidth":1,"opacity":0.9},
 "encoding":{"x":{"field":"b","type":"quantitative"},"y":{"field":"p","type":"quantitative"}}},
{"data":{"values":[{"b":378.05,"p":3959.8,"t":"14"},{"b":386.65,"p":3959.8,"t":"33"}]},
 "mark":{"type":"text","fontSize":16.5,"color":"#f7931e","align":"left","baseline":"middle"},
 "encoding":{"x":{"field":"b","type":"quantitative"},"y":{"field":"p","type":"quantitative"},"text":{"field":"t"}}},
{"data":{"values":[{"b":382.3,"p":3959.8,"t":"M"},{"b":391.05,"p":3959.8,"t":"seg"}]},
 "mark":{"type":"text","fontSize":16.5,"color":"#b3b8bc","align":"left","baseline":"middle"},
 "encoding":{"x":{"field":"b","type":"quantitative"},"y":{"field":"p","type":"quantitative"},"text":{"field":"t"}}},
{"data":{"values":[{"b":15.68,"b2":57.49,"p":4208.5,"p2":4202.9},{"b":33.8,"b2":45.41,"p":4216.8,"p2":4211.5}]},
 "mark":{"type":"rect","fill":"white","stroke":"#e1e4e6","strokeWidth":1,"cornerRadius":2},
 "encoding":{"x":{"field":"b","type":"quantitative"},"x2":{"field":"b2"},"y":{"field":"p","type":"quantitative"},"y2":{"field":"p2"}}},
{"data":{"values":[{"b":19.98,"p":4208.5,"p2":4202.9},{"b":53.19,"p":4208.5,"p2":4202.9}]},
 "mark":{"type":"rule","strokeWidth":1,"color":"#e1e4e6"},
 "encoding":{"x":{"field":"b","type":"quantitative"},"y":{"field":"p","type":"quantitative"},"y2":{"field":"p2"}}},
{"data":{"values":[{"button":"sell","b":3.14,"b2":14.75,"p":4208.5,"p2":4202.9},{"button":"buy","b":58.65,"b2":70.04,"p":4208.5,"p2":4202.9}]},
 "mark":{"type":"rect","cornerRadius":2},
 "encoding":{"x":{"field":"b","type":"quantitative"},"x2":{"field":"b2"},"y":{"field":"p","type":"quantitative"},"y2":{"field":"p2"},
  "color":{"field":"button","type":"nominal","legend":null,"scale":{"domain":["sell","buy"],"range":["#f8404f","#00b274"]}}}},
{"data":{"values":[{"b":8.94,"p":4205.6,"t":"4048.62"},{"b":64.34,"p":4205.6,"t":"4066.67"}]},
 "mark":{"type":"text","fontSize":11.8,"fontWeight":500,"color":"white","align":"center","baseline":"middle"},
 "encoding":{"x":{"field":"b","type":"quantitative"},"y":{"field":"p","type":"quantitative"},"text":{"field":"t"}}},
{"data":{"values":[{"b":3.14,"p":4214.3,"t":"USDCOP"}]},
 "mark":{"type":"text","fontSize":13.4,"fontWeight":"bold","color":"#3d4a55","align":"left","baseline":"middle"},
 "encoding":{"x":{"field":"b","type":"quantitative"},"y":{"field":"p","type":"quantitative"},"text":{"field":"t"}}},
{"data":{"values":[{"b":16.4,"p":4214.1,"t":"CFD"}]},
 "mark":{"type":"text","fontSize":9.5,"color":"#8a9299","align":"left","baseline":"middle"},
 "encoding":{"x":{"field":"b","type":"quantitative"},"y":{"field":"p","type":"quantitative"},"text":{"field":"t"}}},
{"data":{"values":[{"b":37.75,"p":4214.2,"t":"M30"},{"b":76.07,"p":4205.6,"t":"SL/TP"}]},
 "mark":{"type":"text","fontSize":11.5,"color":"#5c6770","align":"center","baseline":"middle"},
 "encoding":{"x":{"field":"b","type":"quantitative"},"y":{"field":"p","type":"quantitative"},"text":{"field":"t"}}},
{"data":{"values":[{"b":34.5,"p":4206.0,"t":"2"}]},
 "mark":{"type":"text","fontSize":12,"fontWeight":"bold","color":"#222222","align":"center","baseline":"middle"},
 "encoding":{"x":{"field":"b","type":"quantitative"},"y":{"field":"p","type":"quantitative"},"text":{"field":"t"}}},
{"data":{"values":[{"b":17.77,"p":4205.8,"t":"−"},{"b":55.17,"p":4205.8,"t":"+"}]},
 "mark":{"type":"text","fontSize":15,"fontWeight":500,"color":"#333333","align":"center","baseline":"middle"},
 "encoding":{"x":{"field":"b","type":"quantitative"},"y":{"field":"p","type":"quantitative"},"text":{"field":"t"}}},
{"data":{"values":[{"b":23.58,"p":4214.75},{"b":43.32,"p":4214.4}]},
 "mark":{"type":"point","shape":"M -1,-0.6 L 1,-0.6 L 0,0.6 Z","filled":true,"size":64,"color":"#8a9299","opacity":1},
 "encoding":{"x":{"field":"b","type":"quantitative"},"y":{"field":"p","type":"quantitative"}}},
{"data":{"values":[{"b":29.15,"p":4214.28}]},
 "mark":{"type":"point","shape":"circle","filled":true,"size":154,"color":"#8b8f92","opacity":1},
 "encoding":{"x":{"field":"b","type":"quantitative"},"y":{"field":"p","type":"quantitative"}}},
{"data":{"values":[{"b":29.15,"p":4214.2,"t":"i"}]},
 "mark":{"type":"text","fontSize":10,"fontWeight":"bold","color":"white","align":"center","baseline":"middle"},
 "encoding":{"x":{"field":"b","type":"quantitative"},"y":{"field":"p","type":"quantitative"},"text":{"field":"t"}}},
{"data":{"values":[{"b":48.9,"p":4205.67}]},
 "mark":{"type":"point","shape":"M -0.9,-0.3 H 0.8 M 0.4,-0.7 L 0.9,-0.3 L 0.4,0.1 M 0.9,0.3 H -0.8 M -0.4,-0.1 L -0.9,0.3 L -0.4,0.7","filled":false,"size":121,"color":"#c4c8cb","strokeWidth":1.2,"opacity":1},
 "encoding":{"x":{"field":"b","type":"quantitative"},"y":{"field":"p","type":"quantitative"}}},
{"data":{"values":[
  {"icon":"line","b":85.13,"p":4205.67},
  {"icon":"candles","b":91.4,"p":4205.67},
  {"icon":"zoomout","b":97.7,"p":4205.98},
  {"icon":"zoomin","b":103.95,"p":4205.98},
  {"icon":"move","b":110.2,"p":4205.67}]},
 "mark":{"type":"point","filled":false,"size":256,"strokeWidth":1.3,"color":"#55626b","opacity":1},
 "encoding":{"x":{"field":"b","type":"quantitative"},"y":{"field":"p","type":"quantitative"},
  "shape":{"field":"icon","type":"nominal","legend":null,"scale":{"domain":["line","candles","zoomout","zoomin","move"],"range":[
   "M -1,0.7 L -0.4,-0.1 L 0,0.2 L 0.5,-0.3 L 1,-0.6",
   "M -0.6,-0.9 L -0.6,0.9 M 0,-0.9 L 0,0.9 M 0.6,-0.9 L 0.6,0.9 M -0.8,-0.5 H -0.4 V 0.5 H -0.8 Z M -0.2,-0.1 H 0.2 V 0.7 H -0.2 Z M 0.4,-0.6 H 0.8 V 0.2 H 0.4 Z",
   "M 0.6,-0.15 A 0.75 0.75 0 1 1 -0.9,-0.15 A 0.75 0.75 0 1 1 0.6,-0.15 Z M 0.4,0.4 L 1,1 M -0.5,-0.15 H 0.2",
   "M 0.6,-0.15 A 0.75 0.75 0 1 1 -0.9,-0.15 A 0.75 0.75 0 1 1 0.6,-0.15 Z M 0.4,0.4 L 1,1 M -0.5,-0.15 H 0.2 M -0.15,-0.5 V 0.2",
   "M -0.95,0 H 0.95 M 0,-0.95 V 0.95 M -0.7,-0.2 L -0.95,0 L -0.7,0.2 M 0.7,-0.2 L 0.95,0 L 0.7,0.2 M -0.2,-0.7 L 0,-0.95 L 0.2,-0.7 M -0.2,0.7 L 0,0.95 L 0.2,0.7"]}}}},
{"data":{"values":[{"b":93.5,"p":4202.85},{"b":112.5,"p":4202.85}]},
 "mark":{"type":"point","shape":"M 1,-1 L 1,1 L -1,1 Z","filled":true,"size":9,"color":"#111111","opacity":1},
 "encoding":{"x":{"field":"b","type":"quantitative"},"y":{"field":"p","type":"quantitative"}}}
]
}
